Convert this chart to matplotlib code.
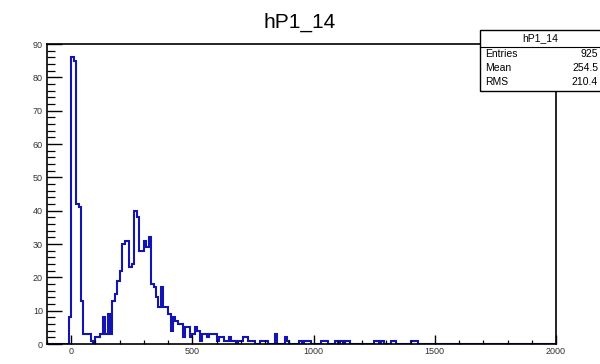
import matplotlib
matplotlib.use('Agg')
import matplotlib.pyplot as plt
import matplotlib.ticker as mticker
from matplotlib.patches import Rectangle
import numpy as np

plt.rcParams['font.family'] = ['Liberation Sans', 'DejaVu Sans']

# histogram hP1_14: bins of width 10, first listed bin starts at -10
bin_width = 10
first_edge = -10
counts = [
    8,
    86, 85, 42, 41, 13, 3, 3, 3, 1, 0,
    2, 2, 3, 8, 3, 9, 3, 13, 15, 19,
    22, 30, 31, 31, 23, 24, 40, 38, 28, 28,
    31, 29, 32, 18, 17, 14, 11, 17, 11, 11,
    9, 4, 8, 7, 6, 6, 2, 5, 5, 2,
    3, 5, 4, 1, 3, 3, 2, 3, 3, 3,
    1, 2, 2, 1, 1, 2, 1, 1, 0, 1,
    1, 2, 2, 1, 1, 1, 0, 0, 1, 1,
    1, 0, 0, 0, 3, 0, 0, 0, 2, 1,
    0, 0, 0, 0, 1, 0, 1, 1, 1, 0,
    0, 0, 0, 1, 1, 1, 0, 0, 0, 1,
    0, 1, 0, 1, 1, 0, 0, 0, 0, 0,
    0, 0, 0, 0, 0, 1, 1, 0, 1, 0,
    0, 0, 1, 1, 0, 0, 0, 0, 0, 0,
    1, 1, 1, 0,
]
x_min, x_max = -100, 2000
y_max = 90

hist_name = "hP1_14"
stat_labels = ["Entries", "Mean", "RMS"]
stat_values = ["925", "254.5", "210.4"]

# pad counts to full range
n_lead = (first_edge - x_min) // bin_width
n_bins = (x_max - x_min) // bin_width
vals = np.zeros(n_bins)
vals[n_lead:n_lead + len(counts)] = counts
edges = np.arange(x_min, x_max + bin_width, bin_width)

fig = plt.figure(figsize=(6.0, 3.64), dpi=100)
ax = fig.add_axes([47 / 600, 20 / 364, 509 / 600, 300 / 364])
ax.stairs(vals, edges, color='#1414b0', linewidth=1.5)

ax.set_xlim(x_min, x_max)
ax.set_ylim(0, y_max)
ax.xaxis.set_major_locator(mticker.MultipleLocator(500))
ax.xaxis.set_minor_locator(mticker.MultipleLocator(100))
ax.yaxis.set_major_locator(mticker.MultipleLocator(10))
ax.yaxis.set_minor_locator(mticker.MultipleLocator(2))
ax.tick_params(axis='x', which='major', direction='in', length=6.5, width=1.0,
               labelsize=6.5, pad=2, top=False, labelcolor='#333333')
ax.tick_params(axis='x', which='minor', direction='in', length=3.2, width=0.9, top=False)
ax.tick_params(axis='y', which='major', direction='in', length=11, width=1.0,
               labelsize=6.5, pad=3, right=False, labelcolor='#333333')
ax.tick_params(axis='y', which='minor', direction='in', length=5.4, width=0.9, right=False)
for s in ax.spines.values():
    s.set_linewidth(1.2)

fig.text(0.5, 1 - 22 / 364, hist_name, ha='center', va='center', fontsize=15)

# stats box
bx0, bx1 = 480 / 600, 1.02
by_top, by_bot = 1 - 30 / 364, 1 - 91 / 364
fig.patches.append(Rectangle((bx0, by_bot), bx1 - bx0, by_top - by_bot,
                             transform=fig.transFigure, facecolor='white',
                             edgecolor='black', linewidth=1.0, zorder=5))
sep_y = 1 - 47 / 364
fig.add_artist(plt.Line2D([bx0, bx1], [sep_y, sep_y], transform=fig.transFigure,
                          color='black', linewidth=0.8, zorder=6))
fig.text((bx0 + 1.0) / 2, 1 - 38.5 / 364, hist_name, ha='center', va='center',
         fontsize=7.5, zorder=7)
for i, (lab, val) in enumerate(zip(stat_labels, stat_values)):
    yy = 1 - (54 + 14 * i) / 364
    fig.text(bx0 + 5 / 600, yy, lab, ha='left', va='center', fontsize=7.5, zorder=7)
    fig.text(598 / 600, yy, val, ha='right', va='center', fontsize=7.5, zorder=7)

fig.savefig('out.png', dpi=100, facecolor='white')
